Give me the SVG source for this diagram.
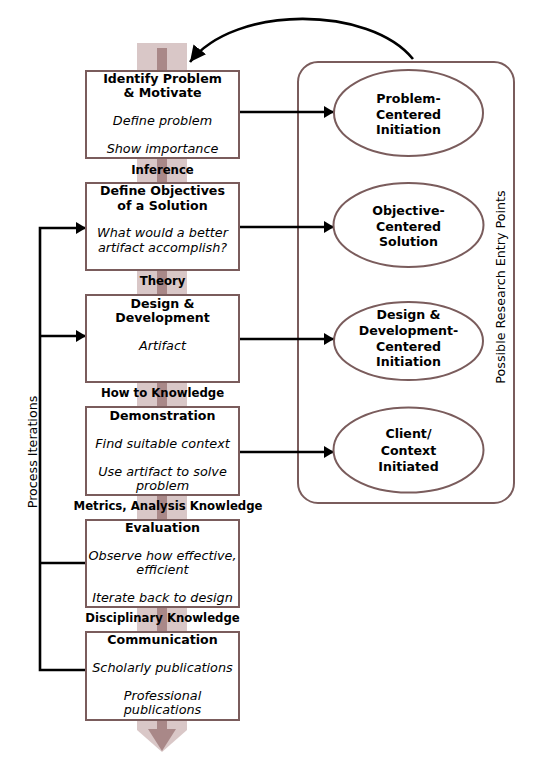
<svg xmlns="http://www.w3.org/2000/svg" width="539" height="758" viewBox="0 0 539 758">
<defs>
<style>
.box{fill:#ffffff;stroke:#7a5c5c;stroke-width:2}
.ell{fill:#ffffff;stroke:#7a5c5c;stroke-width:2}
.t{font-family:"DejaVu Sans",sans-serif;font-weight:bold;font-size:12.6px;fill:#000;text-anchor:middle}
.i{font-family:"DejaVu Sans",sans-serif;font-style:italic;font-size:12.8px;fill:#000;text-anchor:middle}
.l{font-family:"DejaVu Sans",sans-serif;font-weight:bold;font-size:11.7px;fill:#000;text-anchor:middle}
.r{font-family:"DejaVu Sans",sans-serif;font-size:12.7px;fill:#000;text-anchor:middle}
.c{fill:none;stroke:#000;stroke-width:2.6}
</style>
<marker id="ah" viewBox="0 0 10 12" refX="10" refY="6" markerWidth="10" markerHeight="12" markerUnits="userSpaceOnUse" orient="auto">
<path d="M0,0 L10,6 L0,12 z" fill="#000"/>
</marker>
<marker id="ahb" viewBox="0 0 16 16" refX="16" refY="8" markerWidth="16" markerHeight="16" markerUnits="userSpaceOnUse" orient="auto">
<path d="M0,0 L16,8 L0,16 z" fill="#000"/>
</marker>
</defs>
<rect width="539" height="758" fill="#ffffff"/>
<g id="flow-band">
<polygon points="137,43 187,43 187,730 162,752 137,730" fill="#d9c7c7"/>
<rect x="157" y="48" width="10" height="682" fill="#a98888"/>
<polygon points="148,729 176,729 162,751" fill="#a98888"/>
</g>
<g id="band-labels">
<text class="l" x="162.5" y="174">Inference</text>
<text class="l" x="162.5" y="285">Theory</text>
<text class="l" x="162.5" y="397">How to Knowledge</text>
<text class="l" x="168" y="510">Metrics, Analysis Knowledge</text>
<text class="l" x="162.5" y="622">Disciplinary Knowledge</text>
</g>
<g id="container">
<rect x="298" y="62" width="216" height="441" rx="20" ry="20" fill="none" stroke="#7a5c5c" stroke-width="2"/>
<text class="r" transform="translate(505,287) rotate(-90)">Possible Research Entry Points</text>
</g>
<g id="connectors">
<path class="c" d="M413,59 C370,6 235,4 190,62" marker-end="url(#ahb)"/>
<line class="c" x1="239" y1="112" x2="334" y2="112" marker-end="url(#ah)"/>
<line class="c" x1="239" y1="227" x2="334" y2="227" marker-end="url(#ah)"/>
<line class="c" x1="239" y1="339" x2="334" y2="339" marker-end="url(#ah)"/>
<line class="c" x1="239" y1="452" x2="334" y2="452" marker-end="url(#ah)"/>
<polyline class="c" points="86,670 40,670 40,228 86,228" marker-end="url(#ah)"/>
<line class="c" x1="40" y1="336" x2="86" y2="336" marker-end="url(#ah)"/>
<line class="c" x1="40" y1="563" x2="86" y2="563"/>
<text class="r" transform="translate(37,452) rotate(-90)">Process Iterations</text>
</g>
<g id="identify">
<rect class="box" x="86" y="71" width="153" height="87"/>
<text class="t" x="162.5" y="83">Identify Problem</text>
<text class="t" x="162.5" y="97">&amp; Motivate</text>
<text class="i" x="162.5" y="125">Define problem</text>
<text class="i" x="162.5" y="153">Show importance</text>
</g>
<g id="objectives">
<rect class="box" x="86" y="183" width="153" height="87"/>
<text class="t" x="162.5" y="195">Define Objectives</text>
<text class="t" x="162.5" y="209.5">of a Solution</text>
<text class="i" x="162.5" y="237">What would a better</text>
<text class="i" x="162.5" y="252">artifact accomplish?</text>
</g>
<g id="design">
<rect class="box" x="86" y="295" width="153" height="87"/>
<text class="t" x="162.5" y="308">Design &amp;</text>
<text class="t" x="162.5" y="322">Development</text>
<text class="i" x="162.5" y="350">Artifact</text>
</g>
<g id="demonstration">
<rect class="box" x="86" y="407" width="153" height="88"/>
<text class="t" x="162.5" y="420">Demonstration</text>
<text class="i" x="162.5" y="448">Find suitable context</text>
<text class="i" x="162.5" y="476">Use artifact to solve</text>
<text class="i" x="162.5" y="490">problem</text>
</g>
<g id="evaluation">
<rect class="box" x="86" y="520" width="153" height="87"/>
<text class="t" x="162.5" y="532">Evaluation</text>
<text class="i" x="162.5" y="560">Observe how effective,</text>
<text class="i" x="162.5" y="574">efficient</text>
<text class="i" x="162.5" y="602">Iterate back to design</text>
</g>
<g id="communication">
<rect class="box" x="86" y="632" width="153" height="88"/>
<text class="t" x="162.5" y="644">Communication</text>
<text class="i" x="162.5" y="672">Scholarly publications</text>
<text class="i" x="162.5" y="700">Professional</text>
<text class="i" x="162.5" y="714">publications</text>
</g>
<g id="problem-centered">
<ellipse class="ell" cx="408.5" cy="113" rx="74.5" ry="43"/>
<text class="t" x="408.5" y="103">Problem-</text>
<text class="t" x="408.5" y="118.5">Centered</text>
<text class="t" x="408.5" y="134">Initiation</text>
</g>
<g id="objective-centered">
<ellipse class="ell" cx="408.5" cy="225" rx="75" ry="42"/>
<text class="t" x="408.5" y="215">Objective-</text>
<text class="t" x="408.5" y="231">Centered</text>
<text class="t" x="408.5" y="246">Solution</text>
</g>
<g id="design-centered">
<ellipse class="ell" cx="408.5" cy="341" rx="74.5" ry="39"/>
<text class="t" x="408.5" y="319">Design &amp;</text>
<text class="t" x="408.5" y="335">Development-</text>
<text class="t" x="408.5" y="351">Centered</text>
<text class="t" x="408.5" y="366">Initiation</text>
</g>
<g id="client-initiated">
<ellipse class="ell" cx="408.5" cy="450" rx="75" ry="42.5"/>
<text class="t" x="408.5" y="438">Client/</text>
<text class="t" x="408.5" y="455">Context</text>
<text class="t" x="408.5" y="471">Initiated</text>
</g>
</svg>
